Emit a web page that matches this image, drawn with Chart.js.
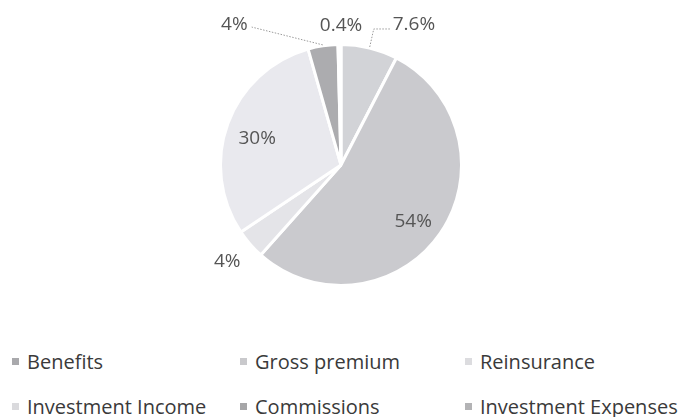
<!DOCTYPE html>
<html>
<head>
<meta charset="utf-8">
<script src="https://cdn.jsdelivr.net/npm/chart.js@4"></script>
<style>
  html, body { margin: 0; padding: 0; background: #fff; }
  #wrap { position: relative; width: 686px; height: 417px; font-family: "Open Sans", sans-serif; }
  #chartBox { position: absolute; left: 0; top: 0; width: 686px; height: 300px; }
  .item { position: absolute; font-size: 20px; color: #3a3a3a; white-space: nowrap; line-height: 24px; }
  .item i { display: inline-block; width: 7px; height: 7px; margin-right: 8px; vertical-align: 4px; }
</style>
</head>
<body>
<div id="wrap">
  <div id="chartBox"><canvas id="pie"></canvas></div>
  <div id="legend"></div>
</div>
<script>
// Data
const categories = ["Benefits", "Gross premium", "Reinsurance", "Investment Income", "Commissions", "Investment Expenses"];
const shares = [7.6, 54, 4, 30, 4, 0.4];
const shareLabels = ["7.6%", "54%", "4%", "30%", "4%", "0.4%"];
const sliceColors = ["#d2d3d7", "#cacace", "#e4e4e8", "#e9e9ee", "#acacaf", "#9c9c9e"];
const legendColors = ["#a9a9ac", "#c9c9cc", "#dcdcdf", "#dadadd", "#a6a6a8", "#b3b3b5"];

// label placement: [angle (deg, clockwise from top), distance in radii, leader line]
const labelPlace = [
  [27.5, 1.31, true],
  [128, 0.76, false],
  [229.6, 1.24, false],
  [287.6, 0.73, false],
  [-37.3, 1.46, true],
  [0, 1.16, false]
];

const labelPlugin = {
  id: "sliceLabels",
  afterDatasetsDraw(chart) {
    const ctx = chart.ctx;
    const meta = chart.getDatasetMeta(0);
    ctx.save();
    ctx.font = "19px 'Open Sans', sans-serif";
    ctx.fillStyle = "#555";
    ctx.textAlign = "center";
    ctx.textBaseline = "middle";
    meta.data.forEach((arc, i) => {
      const p = arc.getProps(["x", "y", "startAngle", "endAngle", "outerRadius"], true);
      const mid = (p.startAngle + p.endAngle) / 2;
      const [angDeg, dist, leader] = labelPlace[i];
      const a = (angDeg - 90) * Math.PI / 180;
      const lx = p.x + Math.cos(a) * p.outerRadius * dist;
      const ly = p.y + Math.sin(a) * p.outerRadius * dist;
      if (leader) {
        const ex = p.x + Math.cos(mid) * (p.outerRadius + 1);
        const ey = p.y + Math.sin(mid) * (p.outerRadius + 1);
        const w = ctx.measureText(shareLabels[i]).width;
        ctx.save();
        ctx.strokeStyle = "#9a9a9a";
        ctx.lineWidth = 1;
        ctx.setLineDash([1.5, 1.5]);
        ctx.beginPath();
        ctx.moveTo(ex, ey);
        if (lx > ex) {
          ctx.lineTo(ex + 4, ly + 4);
          ctx.lineTo(lx - w / 2 - 2, ly + 4);
        } else {
          ctx.lineTo(lx + w / 2 + 4, ly + 2);
        }
        ctx.stroke();
        ctx.restore();
      }
      ctx.fillText(shareLabels[i], lx, ly);
    });
    ctx.restore();
  }
};

new Chart(document.getElementById("pie"), {
  type: "pie",
  data: {
    labels: categories,
    datasets: [{
      data: shares,
      backgroundColor: sliceColors,
      borderColor: "#ffffff",
      borderWidth: 3
    }]
  },
  options: {
    responsive: true,
    maintainAspectRatio: false,
    animation: false,
    layout: { padding: { top: 43, bottom: 13, left: 0, right: 4 } },
    plugins: { legend: { display: false }, tooltip: { enabled: false } }
  },
  plugins: [labelPlugin]
});

// Legend (3 columns x 2 rows)
const legendEl = document.getElementById("legend");
const colX = [12, 240, 465];
const rowY = [350, 395];
categories.forEach((name, i) => {
  const d = document.createElement("div");
  d.className = "item";
  d.style.left = colX[i % 3] + "px";
  d.style.top = rowY[Math.floor(i / 3)] + "px";
  d.innerHTML = `<i style="background:${legendColors[i]}"></i>${name}`;
  legendEl.appendChild(d);
});
</script>
</body>
</html>
